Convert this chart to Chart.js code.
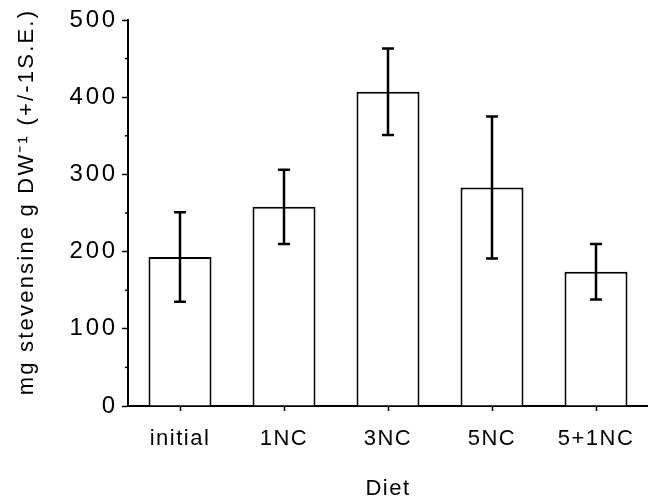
<!DOCTYPE html>
<html>
<head>
<meta charset="utf-8">
<script src="https://cdn.jsdelivr.net/npm/chart.js@4.4.1/dist/chart.umd.min.js"></script>
<style>
    html, body { margin: 0; padding: 0; background: #fff; }
    #wrap { width: 648px; height: 504px; }
</style>
</head>
<body>
<div id="wrap"><canvas id="dietChart" width="648" height="504"></canvas></div>
<script>
// --- DATA ---
const diets = ['initial', '1NC', '3NC', '5NC', '5+1NC'];
const meanValues = [193, 258, 407, 283, 174];
const seValues = [58, 48, 56, 92, 36];
const yTicks = [0, 100, 200, 300, 400, 500];
const yMinorTicks = [50, 150, 250, 350, 450];
const yTitle = 'mg stevensine g DW\u207B\u00B9 (+/-1S.E.)';

const FONT = "'Liberation Sans', Arial, Helvetica, sans-serif";

// error bars, minor y ticks, y title and per-axis letter spacing
const extrasPlugin = {
    id: 'extras',
    beforeDraw(chart) {
        chart.ctx.letterSpacing = '1.5px';
    },
    afterDatasetsDraw(chart) {
        const ctx = chart.ctx;
        const y = chart.scales.y;
        const meta = chart.getDatasetMeta(0);

        ctx.save();
        ctx.letterSpacing = '0px';
        ctx.strokeStyle = '#000';
        ctx.lineWidth = 2.5;
        meta.data.forEach((bar, i) => {
            const x = bar.x;
            const top = y.getPixelForValue(meanValues[i] + seValues[i]);
            const bottom = y.getPixelForValue(meanValues[i] - seValues[i]);
            ctx.beginPath();
            ctx.moveTo(x, top);
            ctx.lineTo(x, bottom);
            ctx.moveTo(x - 6, top);
            ctx.lineTo(x + 6, top);
            ctx.moveTo(x - 6, bottom);
            ctx.lineTo(x + 6, bottom);
            ctx.stroke();
        });

        // minor ticks on the y axis
        ctx.lineWidth = 1.5;
        yMinorTicks.forEach(v => {
            const py = y.getPixelForValue(v);
            ctx.beginPath();
            ctx.moveTo(y.right - 3, py);
            ctx.lineTo(y.right, py);
            ctx.stroke();
        });
        ctx.restore();

        // y labels are drawn after this point
        ctx.letterSpacing = '2.8px';
    },
    afterDraw(chart) {
        const ctx = chart.ctx;
        // rotated y title, placed a bit above the axis centre like the figure
        ctx.save();
        ctx.letterSpacing = '2.2px';
        ctx.fillStyle = '#000';
        ctx.font = '22px ' + FONT;
        ctx.textAlign = 'center';
        ctx.textBaseline = 'middle';
        ctx.translate(27, 202);
        ctx.rotate(-Math.PI / 2);
        ctx.fillText(yTitle, 0, 0);
        ctx.restore();
        ctx.letterSpacing = '0px';
    }
};

new Chart(document.getElementById('dietChart'), {
    type: 'bar',
    data: {
        labels: diets,
        datasets: [{
            data: meanValues,
            backgroundColor: '#fff',
            borderColor: '#000',
            borderWidth: 2,
            barPercentage: 0.606,
            categoryPercentage: 1.0
        }]
    },
    options: {
        responsive: false,
        animation: false,
        devicePixelRatio: 1,
        layout: { padding: { top: 20, right: 0, bottom: 0, left: 0 } },
        plugins: {
            legend: { display: false },
            tooltip: { enabled: false }
        },
        scales: {
            x: {
                offset: true,
                afterFit: (scale) => { scale.height = 98; },
                grid: {
                    offset: false,
                    drawOnChartArea: false,
                    drawTicks: true,
                    tickLength: 5,
                    tickWidth: 1.5,
                    tickColor: '#000'
                },
                border: { display: true, color: '#000', width: 2 },
                ticks: {
                    color: '#000',
                    font: { family: FONT, size: 22 },
                    padding: 15,
                    maxRotation: 0,
                    autoSkip: false
                },
                title: {
                    display: true,
                    text: 'Diet',
                    color: '#000',
                    font: { family: FONT, size: 22 },
                    padding: { top: 0, bottom: 2 }
                }
            },
            y: {
                min: 0,
                max: 500,
                afterFit: (scale) => { scale.width = 128; },
                afterBuildTicks: (scale) => { scale.ticks = yTicks.map(v => ({ value: v })); },
                grid: {
                    z: 1,
                    drawOnChartArea: false,
                    drawTicks: true,
                    tickLength: 6,
                    tickWidth: 1.5,
                    tickColor: '#000'
                },
                border: { z: 1, display: true, color: '#000', width: 2 },
                ticks: {
                    z: 1,
                    color: '#000',
                    font: { family: FONT, size: 24 },
                    padding: 4
                },
                title: { display: false }
            }
        }
    },
    plugins: [extrasPlugin]
});
</script>
</body>
</html>
